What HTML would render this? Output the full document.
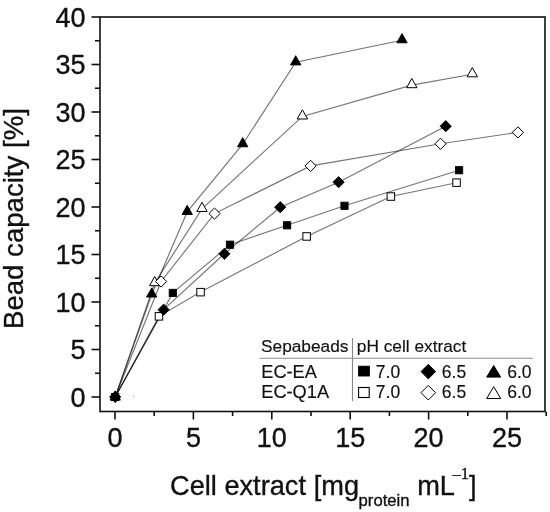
<!DOCTYPE html>
<html><head><meta charset="utf-8"><title>chart</title>
<style>
html,body{margin:0;padding:0;background:#fff;}
body{width:550px;height:512px;overflow:hidden;}
svg text{stroke:#111;stroke-width:0.35px;}
svg .lg text{stroke-width:0.15px;}
svg{display:block;filter:blur(0.45px);font-family:"Liberation Sans",sans-serif;}
</style></head><body>
<svg width="550" height="512" viewBox="0 0 550 512">
<rect width="550" height="512" fill="#fff"/>

<g stroke="#111" stroke-width="1.6" fill="none">
<rect x="100.0" y="17.0" width="445.0" height="394.5"/>
<line x1="91.5" x2="100.0" y1="397.00" y2="397.00"/>
<line x1="95" x2="100.0" y1="373.25" y2="373.25"/>
<line x1="91.5" x2="100.0" y1="349.50" y2="349.50"/>
<line x1="95" x2="100.0" y1="325.75" y2="325.75"/>
<line x1="91.5" x2="100.0" y1="302.00" y2="302.00"/>
<line x1="95" x2="100.0" y1="278.25" y2="278.25"/>
<line x1="91.5" x2="100.0" y1="254.50" y2="254.50"/>
<line x1="95" x2="100.0" y1="230.75" y2="230.75"/>
<line x1="91.5" x2="100.0" y1="207.00" y2="207.00"/>
<line x1="95" x2="100.0" y1="183.25" y2="183.25"/>
<line x1="91.5" x2="100.0" y1="159.50" y2="159.50"/>
<line x1="95" x2="100.0" y1="135.75" y2="135.75"/>
<line x1="91.5" x2="100.0" y1="112.00" y2="112.00"/>
<line x1="95" x2="100.0" y1="88.25" y2="88.25"/>
<line x1="91.5" x2="100.0" y1="64.50" y2="64.50"/>
<line x1="95" x2="100.0" y1="40.75" y2="40.75"/>
<line x1="91.5" x2="100.0" y1="17.00" y2="17.00"/>
<line x1="115.00" x2="115.00" y1="411.5" y2="419.5"/>
<line x1="154.20" x2="154.20" y1="411.5" y2="416"/>
<line x1="193.40" x2="193.40" y1="411.5" y2="419.5"/>
<line x1="232.60" x2="232.60" y1="411.5" y2="416"/>
<line x1="271.80" x2="271.80" y1="411.5" y2="419.5"/>
<line x1="311.00" x2="311.00" y1="411.5" y2="416"/>
<line x1="350.20" x2="350.20" y1="411.5" y2="419.5"/>
<line x1="389.40" x2="389.40" y1="411.5" y2="416"/>
<line x1="428.60" x2="428.60" y1="411.5" y2="419.5"/>
<line x1="467.80" x2="467.80" y1="411.5" y2="416"/>
<line x1="507.00" x2="507.00" y1="411.5" y2="419.5"/>
<line x1="546.20" x2="546.20" y1="411.5" y2="416"/>
</g>
<g font-size="27" fill="#111">
<text x="85.5" y="406.6" text-anchor="end">0</text>
<text x="85.5" y="359.1" text-anchor="end">5</text>
<text x="85.5" y="311.6" text-anchor="end">10</text>
<text x="85.5" y="264.1" text-anchor="end">15</text>
<text x="85.5" y="216.6" text-anchor="end">20</text>
<text x="85.5" y="169.1" text-anchor="end">25</text>
<text x="85.5" y="121.6" text-anchor="end">30</text>
<text x="85.5" y="74.1" text-anchor="end">35</text>
<text x="85.5" y="26.6" text-anchor="end">40</text>
<text x="115.0" y="446.5" text-anchor="middle">0</text>
<text x="193.4" y="446.5" text-anchor="middle">5</text>
<text x="271.8" y="446.5" text-anchor="middle">10</text>
<text x="350.2" y="446.5" text-anchor="middle">15</text>
<text x="428.6" y="446.5" text-anchor="middle">20</text>
<text x="507.0" y="446.5" text-anchor="middle">25</text>
</g>
<text x="170" y="495.3" font-size="27.2" fill="#111">Cell extract <tspan dx="0.2">[mg</tspan><tspan font-size="16.7" dy="10.3" dx="-0.5">protein</tspan><tspan dy="-10.3"> mL</tspan><tspan font-family="'Liberation Serif',serif" font-size="16.5" dy="-16.5" dx="-2.4">–1</tspan><tspan dy="16.5" dx="0">]</tspan></text>
<text transform="translate(23.3,329) rotate(-90)" font-size="27.6" fill="#111">Bead capacity [%]</text>
<g stroke="#000" stroke-opacity="0.54" stroke-width="1.15" fill="none">
<polyline points="115.2,397.0 172.8,292.9 230.0,244.7 287.1,225.3 344.5,205.8 459.1,170.2"/>
<polyline points="115.2,397.0 159.0,316.3 200.5,292.1 306.6,236.4 390.8,196.5 456.5,182.7"/>
<polyline points="115.2,397.0 163.6,309.7 224.4,253.8 280.2,207.2 338.6,182.2 445.7,126.2"/>
<polyline points="115.2,397.0 161.1,281.5 214.5,213.6 310.6,165.9 440.5,143.8 517.9,132.4"/>
<polyline points="115.2,397.0 151.7,294.5 187.2,211.9 242.7,144.2 295.7,62.3 402.0,40.2"/>
<polyline points="115.2,397.0 154.7,283.1 202.0,208.9 302.4,116.4 411.8,85.1 472.3,74.2"/>
</g>
<rect x="155.2" y="312.6" width="7.5" height="7.5" fill="#fff" stroke="#000" stroke-width="1.0"/>
<rect x="196.8" y="288.4" width="7.5" height="7.5" fill="#fff" stroke="#000" stroke-width="1.0"/>
<rect x="302.9" y="232.7" width="7.5" height="7.5" fill="#fff" stroke="#000" stroke-width="1.0"/>
<rect x="387.1" y="192.8" width="7.5" height="7.5" fill="#fff" stroke="#000" stroke-width="1.0"/>
<rect x="452.8" y="178.9" width="7.5" height="7.5" fill="#fff" stroke="#000" stroke-width="1.0"/>
<rect x="169.2" y="289.3" width="7.2" height="7.2" fill="#000" stroke="#000" stroke-width="0.9"/>
<rect x="226.4" y="241.1" width="7.2" height="7.2" fill="#000" stroke="#000" stroke-width="0.9"/>
<rect x="283.5" y="221.7" width="7.2" height="7.2" fill="#000" stroke="#000" stroke-width="0.9"/>
<rect x="340.9" y="202.2" width="7.2" height="7.2" fill="#000" stroke="#000" stroke-width="0.9"/>
<rect x="455.5" y="166.6" width="7.2" height="7.2" fill="#000" stroke="#000" stroke-width="0.9"/>
<path d="M149.5 285.7L154.7 276.5L159.9 285.7Z" fill="#fff" stroke="#000" stroke-width="1.0"/>
<path d="M196.8 211.5L202.0 202.3L207.2 211.5Z" fill="#fff" stroke="#000" stroke-width="1.0"/>
<path d="M297.2 119.0L302.4 109.8L307.6 119.0Z" fill="#fff" stroke="#000" stroke-width="1.0"/>
<path d="M406.6 87.7L411.8 78.5L417.0 87.7Z" fill="#fff" stroke="#000" stroke-width="1.0"/>
<path d="M467.1 76.8L472.3 67.6L477.5 76.8Z" fill="#fff" stroke="#000" stroke-width="1.0"/>
<path d="M155.5 281.5L161.1 275.9L166.7 281.5L161.1 287.1Z" fill="#fff" stroke="#000" stroke-width="1.0"/>
<path d="M208.9 213.6L214.5 208.0L220.1 213.6L214.5 219.2Z" fill="#fff" stroke="#000" stroke-width="1.0"/>
<path d="M305.0 165.9L310.6 160.3L316.2 165.9L310.6 171.5Z" fill="#fff" stroke="#000" stroke-width="1.0"/>
<path d="M434.9 143.8L440.5 138.2L446.1 143.8L440.5 149.4Z" fill="#fff" stroke="#000" stroke-width="1.0"/>
<path d="M512.3 132.4L517.9 126.8L523.5 132.4L517.9 138.0Z" fill="#fff" stroke="#000" stroke-width="1.0"/>
<path d="M146.5 297.1L151.7 287.9L156.9 297.1Z" fill="#000" stroke="#000" stroke-width="0.9"/>
<path d="M182.0 214.5L187.2 205.3L192.4 214.5Z" fill="#000" stroke="#000" stroke-width="0.9"/>
<path d="M237.5 146.8L242.7 137.6L247.9 146.8Z" fill="#000" stroke="#000" stroke-width="0.9"/>
<path d="M290.5 64.9L295.7 55.7L300.9 64.9Z" fill="#000" stroke="#000" stroke-width="0.9"/>
<path d="M396.8 42.8L402.0 33.6L407.2 42.8Z" fill="#000" stroke="#000" stroke-width="0.9"/>
<path d="M158.0 309.7L163.6 304.1L169.2 309.7L163.6 315.3Z" fill="#000" stroke="#000" stroke-width="0.9"/>
<path d="M218.8 253.8L224.4 248.2L230.0 253.8L224.4 259.4Z" fill="#000" stroke="#000" stroke-width="0.9"/>
<path d="M274.6 207.2L280.2 201.6L285.8 207.2L280.2 212.8Z" fill="#000" stroke="#000" stroke-width="0.9"/>
<path d="M333.0 182.2L338.6 176.6L344.2 182.2L338.6 187.8Z" fill="#000" stroke="#000" stroke-width="0.9"/>
<path d="M440.1 126.2L445.7 120.6L451.3 126.2L445.7 131.8Z" fill="#000" stroke="#000" stroke-width="0.9"/>
<path d="M110.0 400.1L115.2 390.9L120.4 400.1Z" fill="#000" stroke="#000" stroke-width="0.9"/>
<path d="M109.6 397.0L115.2 391.4L120.8 397.0L115.2 402.6Z" fill="#000" stroke="#000" stroke-width="0.9"/>
<rect x="111.6" y="393.4" width="7.2" height="7.2" fill="#000" stroke="#000" stroke-width="0.9"/>
<circle cx="133.5" cy="396.4" r="0.7" fill="#aaa"/>
<g stroke="#888" stroke-width="1.1"><line x1="259.5" x2="533" y1="358.2" y2="358.2"/><line x1="352.5" x2="352.5" y1="338" y2="401"/></g>
<g font-size="17.3" fill="#111" class="lg">
<text x="261" y="351.5">Sepabeads</text>
<text x="356.8" y="351.5">pH cell extract</text>
</g><g font-size="18.2" fill="#111" class="lg">
<text x="261.3" y="377.6">EC-EA</text>
<text x="261.3" y="398.1">EC-Q1A</text>
</g><g font-size="17.5" fill="#111" class="lg">
<text x="375.8" y="377.6">7.0</text>
<text x="441.8" y="377.6">6.5</text>
<text x="507.2" y="377.6">6.0</text>
<text x="375.8" y="398.1">7.0</text>
<text x="441.8" y="398.1">6.5</text>
<text x="507.2" y="398.1">6.0</text>
</g>
<rect x="358.6" y="366.2" width="10.8" height="9.8" fill="#000" stroke="#000" stroke-width="0.9"/>
<rect x="358.6" y="387.5" width="10.6" height="10" fill="#fff" stroke="#000" stroke-width="1.1"/>
<path d="M421.0 371.6L428.3 364.3L435.6 371.6L428.3 378.9Z" fill="#000" stroke="#000" stroke-width="0.9"/>
<path d="M421.0 392.7L428.3 385.4L435.6 392.7L428.3 400.0Z" fill="#fff" stroke="#000" stroke-width="1.0"/>
<path d="M486.7 377.1L493.7 365.6L500.7 377.1Z" fill="#000" stroke="#000" stroke-width="1"/>
<path d="M486.7 398.5L493.7 386.7L500.7 398.5Z" fill="#fff" stroke="#000" stroke-width="1"/>
</svg></body></html>
